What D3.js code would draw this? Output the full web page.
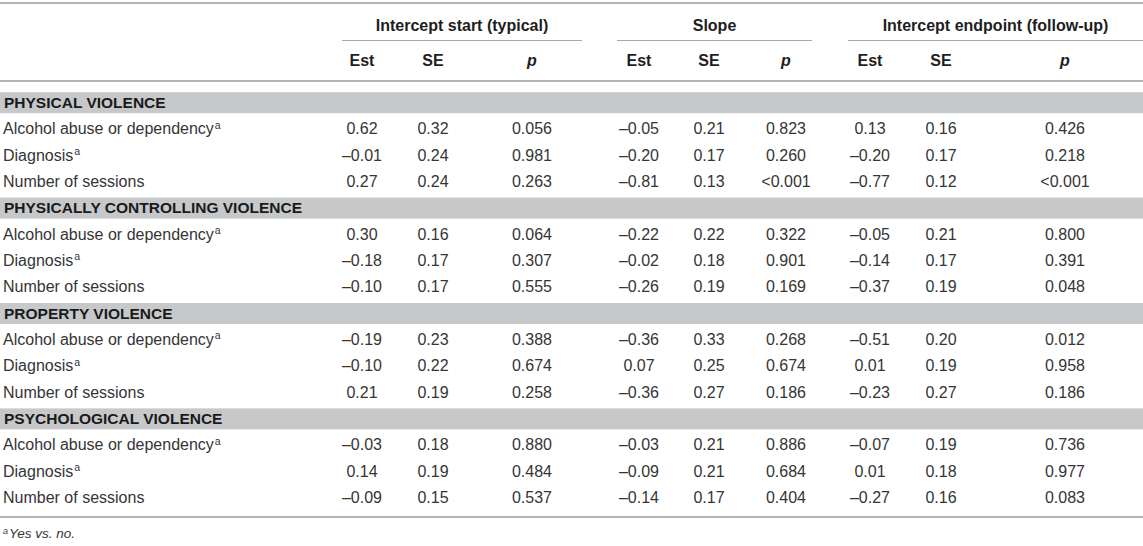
<!DOCTYPE html>
<html>
<head>
<meta charset="utf-8">
<script src="https://cdn.jsdelivr.net/npm/d3@7/dist/d3.min.js"></script>
<style>
  html, body { margin: 0; padding: 0; background: #fff; }
  svg { display: block; font-family: "Liberation Sans", Arial, Helvetica, sans-serif; }
</style>
</head>
<body>
<svg id="chart" width="1143" height="546"></svg>
<script>
// ---------- data ----------
const sections = ["PHYSICAL VIOLENCE", "PHYSICALLY CONTROLLING VIOLENCE", "PROPERTY VIOLENCE", "PSYCHOLOGICAL VIOLENCE"];
const predictors = ["Alcohol abuse or dependency", "Diagnosis", "Number of sessions"];
const predictorNote = ["a", "a", ""];
const groups = ["Intercept start (typical)", "Slope", "Intercept endpoint (follow-up)"];
const subHeaders = ["Est", "SE", "p"];

const startEst = [0.62, -0.01, 0.27, 0.30, -0.18, -0.10, -0.19, -0.10, 0.21, -0.03, 0.14, -0.09];
const startSE  = [0.32, 0.24, 0.24, 0.16, 0.17, 0.17, 0.23, 0.22, 0.19, 0.18, 0.19, 0.15];
const startP   = [0.056, 0.981, 0.263, 0.064, 0.307, 0.555, 0.388, 0.674, 0.258, 0.880, 0.484, 0.537];
const slopeEst = [-0.05, -0.20, -0.81, -0.22, -0.02, -0.26, -0.36, 0.07, -0.36, -0.03, -0.09, -0.14];
const slopeSE  = [0.21, 0.17, 0.13, 0.22, 0.18, 0.19, 0.33, 0.25, 0.27, 0.21, 0.21, 0.17];
const slopeP   = [0.823, 0.260, "<0.001", 0.322, 0.901, 0.169, 0.268, 0.674, 0.186, 0.886, 0.684, 0.404];
const endEst   = [0.13, -0.20, -0.77, -0.05, -0.14, -0.37, -0.51, 0.01, -0.23, -0.07, 0.01, -0.27];
const endSE    = [0.16, 0.17, 0.12, 0.21, 0.17, 0.19, 0.20, 0.19, 0.27, 0.19, 0.18, 0.16];
const endP     = [0.426, 0.218, "<0.001", 0.800, 0.391, 0.048, 0.012, 0.958, 0.186, 0.736, 0.977, 0.083];
const footnote = "Yes vs. no.";

// ---------- layout ----------
const W = 1143, H = 546;
const svg = d3.select("#chart");
svg.append("rect").attr("width", W).attr("height", H).attr("fill", "#fff");

const colKeys = ["e1", "s1", "p1", "e2", "s2", "p2", "e3", "s3", "p3"];
const x = d3.scaleOrdinal().domain(colKeys).range([362, 433, 532, 639, 709, 786, 870, 941, 1065]);
const groupSpan = [[342, 582], [617, 812], [848, 1143]];

// rows: each section = 1 band row + 3 data rows
const rows = [];
sections.forEach((s, si) => {
  rows.push({ type: "section", label: s });
  predictors.forEach((p, pi) => rows.push({ type: "data", label: p, note: predictorNote[pi], idx: si * 3 + pi }));
});
const y = d3.scaleBand().domain(d3.range(rows.length)).range([89, 89 + rows.length * 26.35]);

const fmt2 = v => (typeof v === "string" ? v : d3.format(".2f")(v).replace("-", "\u2013").replace("\u2212", "\u2013"));
const fmt3 = v => (typeof v === "string" ? v : d3.format(".3f")(v));
const colVals = [
  [startEst, fmt2], [startSE, fmt2], [startP, fmt3],
  [slopeEst, fmt2], [slopeSE, fmt2], [slopeP, fmt3],
  [endEst, fmt2], [endSE, fmt2], [endP, fmt3]
];

const ruleColor = "#b4b4b4";
const textColor = "#353535";

// top rule
svg.append("rect").attr("x", 0).attr("y", 2).attr("width", W).attr("height", 2).attr("fill", ruleColor);

// group headers
svg.selectAll("text.group").data(groups).join("text")
  .attr("class", "group")
  .attr("x", (d, i) => (groupSpan[i][0] + groupSpan[i][1]) / 2)
  .attr("y", 25).attr("dy", "0.35em")
  .attr("text-anchor", "middle").attr("font-size", 16).attr("font-weight", "bold")
  .attr("fill", "#1e1e1e").text(d => d);

svg.selectAll("line.gspan").data(groupSpan).join("line")
  .attr("class", "gspan")
  .attr("x1", d => d[0]).attr("x2", d => d[1])
  .attr("y1", 40.5).attr("y2", 40.5)
  .attr("stroke", "#a8a8a8").attr("stroke-width", 1);

// sub headers
svg.selectAll("text.sub").data(colKeys).join("text")
  .attr("class", "sub")
  .attr("x", d => x(d)).attr("y", 60).attr("dy", "0.35em")
  .attr("text-anchor", "middle").attr("font-size", 16).attr("font-weight", "bold")
  .attr("font-style", (d, i) => subHeaders[i % 3] === "p" ? "italic" : "normal")
  .attr("fill", "#1e1e1e").text((d, i) => subHeaders[i % 3]);

// rule under header
svg.append("rect").attr("x", 0).attr("y", 80).attr("width", W).attr("height", 2).attr("fill", ruleColor);

// rows
const rowG = svg.selectAll("g.row").data(rows).join("g")
  .attr("class", "row")
  .attr("transform", (d, i) => `translate(0,${y(i) + y.bandwidth() / 2})`);

rowG.filter(d => d.type === "section").append("rect")
  .attr("x", 0).attr("y", -10).attr("width", W).attr("height", 21)
  .attr("fill", "#c7c8ca");

rowG.filter(d => d.type === "section").append("text")
  .attr("x", 4).attr("dy", "0.36em")
  .attr("font-size", 15.5).attr("font-weight", "bold").attr("fill", "#1a1a1a")
  .text(d => d.label);

const lbl = rowG.filter(d => d.type === "data").append("text")
  .attr("x", 3).attr("dy", "0.36em")
  .attr("font-size", 16).attr("fill", textColor);
lbl.append("tspan").text(d => d.label);
lbl.filter(d => d.note).append("tspan")
  .attr("font-size", 10.5).attr("dy", "-0.55em").attr("dx", 1).text(d => d.note);

rowG.filter(d => d.type === "data").each(function (d) {
  d3.select(this).selectAll("text.val").data(colKeys).join("text")
    .attr("class", "val")
    .attr("x", k => x(k)).attr("dy", "0.36em")
    .attr("text-anchor", "middle").attr("font-size", 16).attr("fill", textColor)
    .text((k, ci) => colVals[ci][1](colVals[ci][0][d.idx]));
});

// bottom rule
svg.append("rect").attr("x", 0).attr("y", 516).attr("width", W).attr("height", 2).attr("fill", ruleColor);

// footnote
const fn = svg.append("text").attr("x", 3).attr("y", 536).attr("dy", "0.35em")
  .attr("font-size", 13.5).attr("font-style", "italic").attr("fill", textColor);
fn.append("tspan").attr("font-size", 9).attr("dy", "-0.25em").text("a");
fn.append("tspan").attr("dy", "0.3em").attr("dx", 1).text(footnote);
</script>
</body>
</html>
